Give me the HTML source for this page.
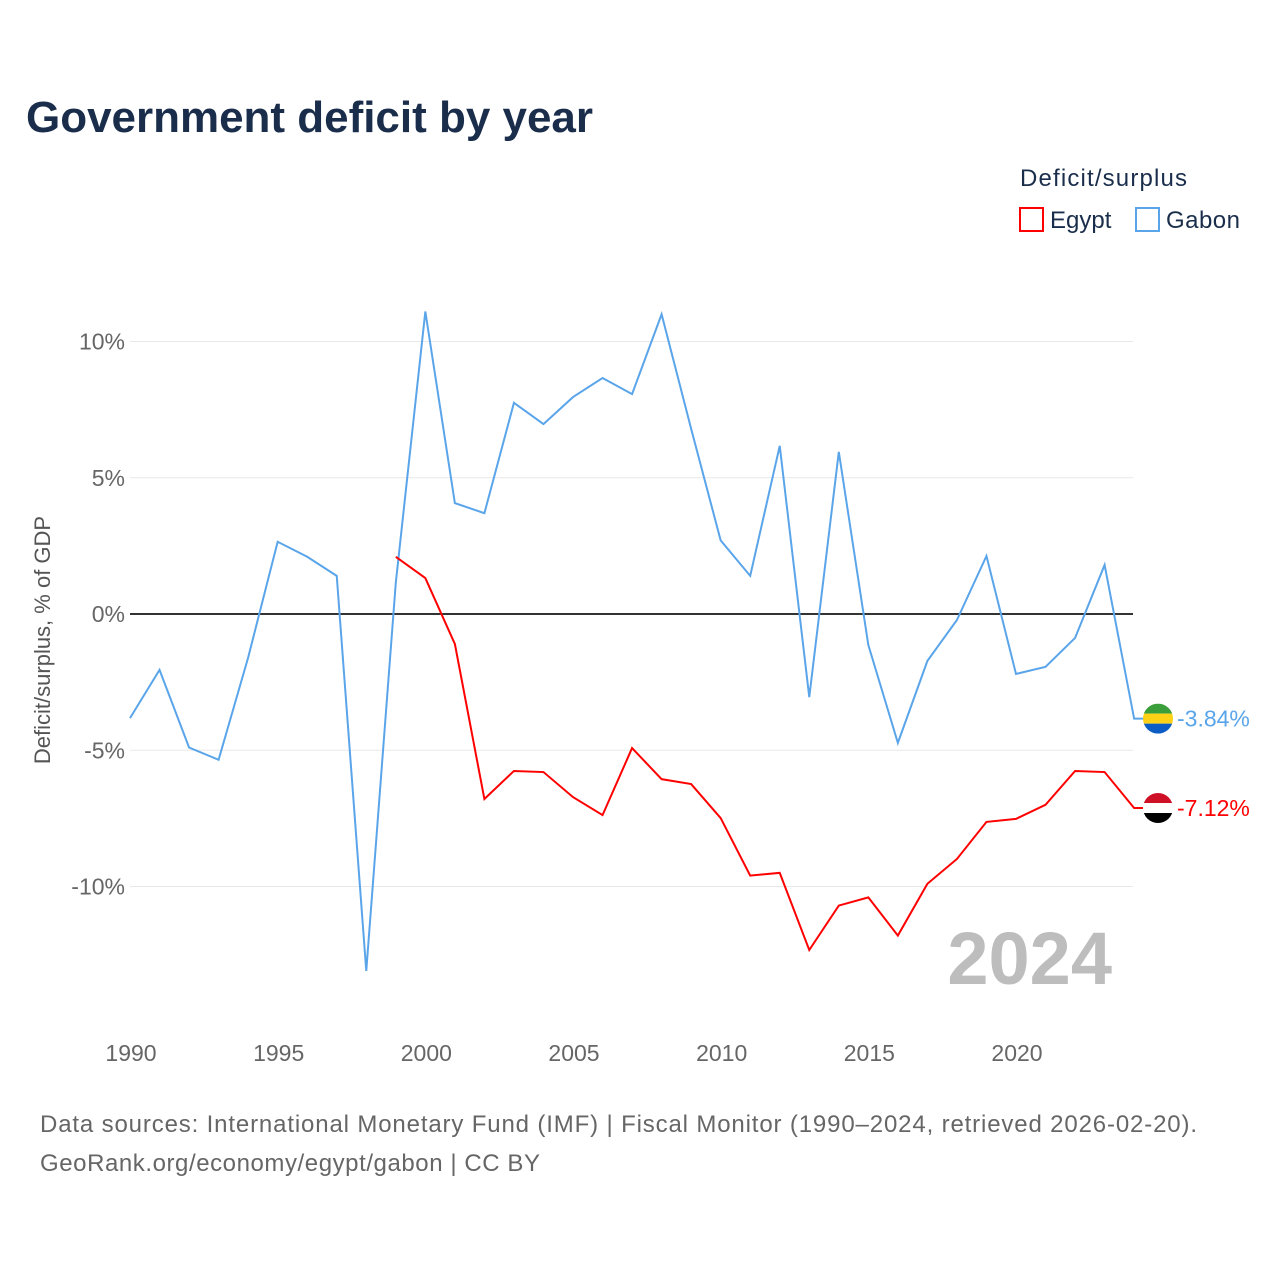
<!DOCTYPE html>
<html><head><meta charset="utf-8"><style>
body{margin:0;background:#fff;font-family:"Liberation Sans",sans-serif}
svg{display:block}
</style></head><body>
<svg id="chart" width="1280" height="1280" xmlns="http://www.w3.org/2000/svg">
<text x="26" y="132" font-size="44" font-weight="bold" fill="#1a2e4c" textLength="567">Government deficit by year</text>
<text x="1020" y="186" font-size="24" fill="#1a2e4c" textLength="167">Deficit/surplus</text>
<g><rect x="1020" y="208" width="23" height="23" fill="none" stroke="#f00" stroke-width="2"/><text x="1050" y="228" font-size="24" fill="#1a2e4c">Egypt</text></g>
<g><rect x="1136" y="208" width="23" height="23" fill="none" stroke="#5aa5ea" stroke-width="2"/><text x="1166" y="228" font-size="24" fill="#1a2e4c" textLength="74">Gabon</text></g>
<g id="grid"></g><g id="axes"></g>
<text x="1112" y="984" font-size="74" font-weight="bold" fill="#bdbdbd" text-anchor="end">2024</text>
<g id="series"></g>
<text transform="translate(50,640) rotate(-90)" font-size="22" fill="#555" text-anchor="middle">Deficit/surplus, % of GDP</text>
<text x="40" y="1132" font-size="24" fill="#666" textLength="1157">Data sources: International Monetary Fund (IMF) | Fiscal Monitor (1990–2024, retrieved 2026-02-20).</text>
<text x="40" y="1171" font-size="24" fill="#666" textLength="500">GeoRank.org/economy/egypt/gabon | CC BY</text>
</svg>
<script>
const years=[];for(let y=1990;y<=2024;y++)years.push(y);
const gabon=[-3.82,-2.05,-4.9,-5.35,-1.6,2.65,2.1,1.4,-13.1,1.15,11.1,4.07,3.7,7.75,6.97,7.96,8.66,8.07,11.0,6.8,2.7,1.4,6.17,-3.05,5.95,-1.14,-4.73,-1.72,-0.22,2.13,-2.2,-1.94,-0.88,1.8,-3.84];
const egyptYears=[1999,2000,2001,2002,2003,2004,2005,2006,2007,2008,2009,2010,2011,2012,2013,2014,2015,2016,2017,2018,2019,2020,2021,2022,2023,2024];
const egypt=[2.1,1.32,-1.1,-6.79,-5.76,-5.8,-6.72,-7.38,-4.92,-6.06,-6.24,-7.49,-9.6,-9.5,-12.33,-10.7,-10.4,-11.8,-9.9,-8.99,-7.63,-7.52,-7.0,-5.76,-5.8,-7.12];
const yTicks=[10,5,0,-5,-10];
const xTicks=[1990,1995,2000,2005,2010,2015,2020];
const NS="http://www.w3.org/2000/svg";
const X=y=>130+(y-1990)*886/30;
const Y=v=>614-v*27.25;
function mk(t,a,p,txt){const e=document.createElementNS(NS,t);for(const k in a)e.setAttribute(k,a[k]);if(txt!=null)e.textContent=txt;p.appendChild(e);return e;}
const grid=document.getElementById('grid'),axes=document.getElementById('axes'),ser=document.getElementById('series');
yTicks.forEach(v=>{
 const l=mk('line',{x1:130,x2:1133,y1:Y(v),y2:Y(v),stroke:v===0?'#333':'#e8e8e8','stroke-width':v===0?2:1},grid);
 
 
 const t=mk('text',{x:125,y:Y(v)+8,'font-size':23,fill:'#666','text-anchor':'end'},axes,(v>0?v:v===0?'0':v)+'%');
 
 
});
xTicks.forEach(v=>{
 const t=mk('text',{x:X(v)+1,y:1061,'font-size':23,fill:'#666','text-anchor':'middle'},axes,String(v));
 
 
});
function line(xs,vs,color,name){
 const pts=xs.map((y,i)=>X(y)+','+Y(vs[i]));
 const last=vs[vs.length-1];
 pts.push('1146,'+Y(last));
 const p=mk('polyline',{points:pts.join(' '),fill:'none',stroke:color,'stroke-width':2},ser);
 
 
 const t=mk('text',{x:1177,y:Y(last)+8,'font-size':23,fill:color},ser,last.toFixed(2)+'%');
 
 
 return Y(last);
}
const gy=line(years,gabon,'#5aa5ea','gabon');
const ey=line(egyptYears,egypt,'#f00','egypt');
function flag(cy,cols,name){
 const g=mk('g',{},ser);
 
 
 const id='c'+name;
 const cp=mk('clipPath',{id:id},g);mk('circle',{cx:1158,cy:cy,r:15},cp);
 cols.forEach((c,i)=>mk('rect',{x:1143,y:cy-15+i*10,width:30,height:10,fill:c,'clip-path':'url(#'+id+')'},g));
}
flag(gy,['#3a9e3a','#fcd116','#0b5cc4'],'gabon');
flag(ey,['#ce1126','#ffffff','#000000'],'egypt');
</script>
</body></html>
